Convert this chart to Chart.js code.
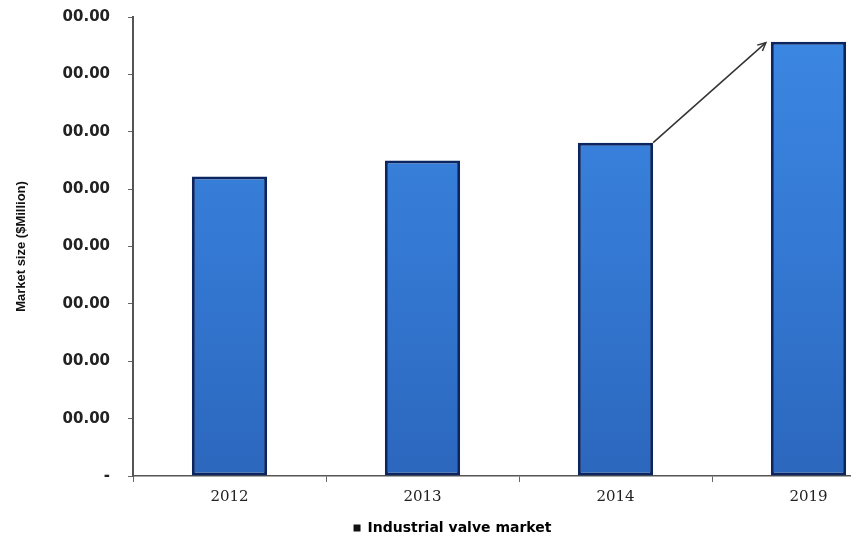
<!DOCTYPE html>
<html>
<head>
<meta charset="utf-8">
<script src="https://cdn.jsdelivr.net/npm/chart.js@4.4.0/dist/chart.umd.min.js"></script>
<style>
  html, body { margin: 0; padding: 0; background: #ffffff; overflow: hidden; }
  #wrap { position: relative; width: 905px; height: 540px; }
</style>
</head>
<body>
<div id="wrap"><canvas id="c"></canvas></div>
<script>
const categories = ['2012', '2013', '2014', '2019'];
const marketValues = [5.22, 5.50, 5.81, 7.57];
const yTickValues = [0, 1, 2, 3, 4, 5, 6, 7, 8];
const yTickLabels = ['-', '00.00', '00.00', '00.00', '00.00', '00.00', '00.00', '00.00', '00.00'];
const seriesName = 'Industrial valve market';
const yTitle = 'Market size ($Million)';

const arrowPlugin = {
  id: 'growthArrow',
  afterDatasetsDraw(chart) {
    const meta = chart.getDatasetMeta(0);
    const a = meta.data[2], b = meta.data[3];
    if (!a || !b) return;
    const x1 = a.x + a.width / 2, y1 = a.y;
    const x2 = b.x - b.width / 2 - 5, y2 = b.y + 1;
    const ctx = chart.ctx;
    ctx.save();
    ctx.strokeStyle = '#333';
    ctx.lineWidth = 1.5;
    ctx.beginPath();
    ctx.moveTo(x1, y1);
    ctx.lineTo(x2, y2);
    ctx.stroke();
    const ang = Math.atan2(y2 - y1, x2 - x1);
    const L = 9;
    ctx.beginPath();
    ctx.moveTo(x2 - L * Math.cos(ang - 0.45), y2 - L * Math.sin(ang - 0.45));
    ctx.lineTo(x2, y2);
    ctx.lineTo(x2 - L * Math.cos(ang + 0.45), y2 - L * Math.sin(ang + 0.45));
    ctx.stroke();
    ctx.restore();
  }
};

function barGradient(context) {
  const chart = context.chart;
  const area = chart.chartArea;
  if (!area) return '#3477d0';
  const g = chart.ctx.createLinearGradient(0, area.top, 0, area.bottom);
  g.addColorStop(0, '#3c88e2');
  g.addColorStop(0.5, '#3479d4');
  g.addColorStop(1, '#2c67bd');
  return g;
}

new Chart(document.getElementById('c'), {
  type: 'bar',
  data: {
    labels: categories,
    datasets: [{
      label: seriesName,
      data: marketValues,
      backgroundColor: barGradient,
      borderColor: '#0b2560',
      borderWidth: 3,
      borderSkipped: false,
      barPercentage: 0.39,
      categoryPercentage: 1.0
    }]
  },
  options: {
    responsive: true,
    maintainAspectRatio: false,
    animation: false,
    layout: { padding: { top: 17, left: 0, right: 0, bottom: -5 } },
    plugins: {
      tooltip: { enabled: false },
      legend: {
        position: 'bottom',
        labels: {
          color: '#222',
          font: { family: 'DejaVu Sans', size: 14, weight: 'bold' },
          boxWidth: 7,
          boxHeight: 7,
          padding: 6,
          generateLabels() {
            return [{ text: seriesName, fillStyle: '#111', strokeStyle: '#111', lineWidth: 0, datasetIndex: 0 }];
          }
        }
      }
    },
    scales: {
      x: {
        grid: { display: true, drawOnChartArea: false, drawTicks: true, tickLength: 6, color: '#666', offset: true },
        border: { display: true, color: '#555', width: 1.5 },
        ticks: { color: '#222', font: { family: 'DejaVu Serif', size: 15 }, padding: 6 },
        afterFit(scale) { scale.height = 39; }
      },
      y: {
        min: 0,
        max: 8,
        afterBuildTicks(scale) { scale.ticks = yTickValues.map(v => ({ value: v })); },
        grid: { display: true, drawOnChartArea: false, drawTicks: true, tickLength: 5, color: '#666' },
        border: { display: true, color: '#555', width: 2 },
        ticks: {
          color: '#222',
          font: { family: 'DejaVu Sans', size: 15, weight: 'bold' },
          padding: 18,
          callback(value) { return yTickLabels[yTickValues.indexOf(value)]; }
        },
        title: {
          display: true,
          text: yTitle,
          color: '#111',
          font: { family: 'Liberation Sans', size: 13, weight: 'bold' },
          padding: { top: 14, bottom: 0 }
        },
        afterFit(scale) {
          scale.width = 133;
          scale.paddingTop = 0;
          scale.paddingBottom = 0;
        }
      }
    }
  },
  plugins: [arrowPlugin]
});
</script>
</body>
</html>
